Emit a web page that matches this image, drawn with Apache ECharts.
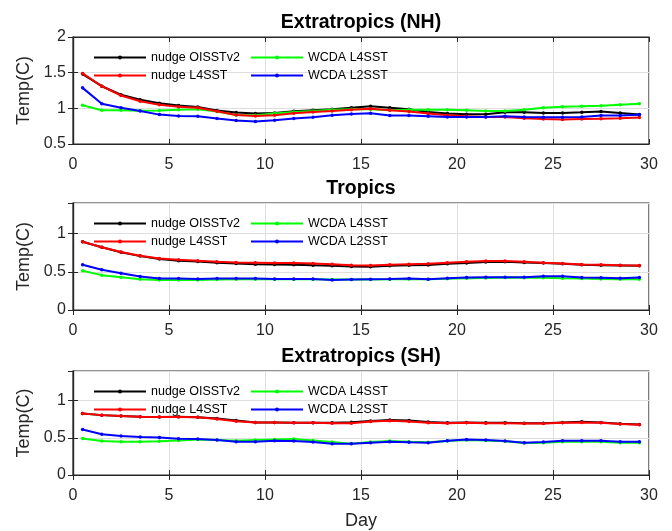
<!DOCTYPE html>
<html>
<head>
<meta charset="utf-8">
<script src="https://cdn.jsdelivr.net/npm/echarts@6/dist/echarts.min.js"></script>
<style>html,body{margin:0;padding:0;background:#fff}#c{width:672px;height:531px}</style>
</head>
<body>
<div id="c"></div>
<script>
const days = [0.5,1.5,2.5,3.5,4.5,5.5,6.5,7.5,8.5,9.5,10.5,11.5,12.5,13.5,14.5,15.5,16.5,17.5,18.5,19.5,20.5,21.5,22.5,23.5,24.5,25.5,26.5,27.5,28.5,29.5];
const xTicks = [0,5,10,15,20,25,30];
const seriesNames = ['nudge OISSTv2','WCDA L4SST','nudge L4SST','WCDA L2SST'];
const panelTitles = ['Extratropics (NH)','Tropics','Extratropics (SH)'];

// Extratropics (NH)
const nhOISST = [1.48,1.31,1.19,1.12,1.07,1.04,1.02,0.97,0.94,0.926,0.935,0.958,0.972,0.986,1.009,1.028,1.009,0.986,0.949,0.926,0.917,0.917,0.944,0.944,0.935,0.935,0.944,0.954,0.935,0.912];
const nhWL4 = [1.042,0.972,0.972,0.965,0.97,0.981,0.986,0.954,0.907,0.903,0.926,0.949,0.963,0.981,0.986,0.986,0.972,0.981,0.981,0.981,0.972,0.963,0.963,0.981,1.009,1.023,1.028,1.037,1.051,1.065];
const nhL4 = [1.49,1.31,1.18,1.10,1.051,1.023,1.009,0.958,0.907,0.894,0.903,0.931,0.949,0.963,0.981,0.995,0.972,0.955,0.926,0.903,0.89,0.88,0.878,0.862,0.85,0.845,0.85,0.855,0.86,0.87];
const nhWL2 = [1.287,1.065,1.009,0.963,0.912,0.894,0.889,0.856,0.829,0.815,0.833,0.856,0.875,0.903,0.921,0.93,0.90,0.90,0.89,0.88,0.88,0.88,0.89,0.88,0.875,0.875,0.88,0.90,0.90,0.91];

// Tropics
const trOISST = [0.894,0.82,0.755,0.705,0.668,0.645,0.635,0.618,0.61,0.60,0.596,0.592,0.587,0.579,0.57,0.565,0.578,0.587,0.59,0.605,0.614,0.627,0.631,0.622,0.614,0.605,0.592,0.587,0.583,0.578];
const trWL4 = [0.513,0.456,0.43,0.403,0.394,0.394,0.394,0.398,0.403,0.403,0.403,0.403,0.403,0.40,0.40,0.40,0.403,0.407,0.403,0.41,0.416,0.42,0.425,0.421,0.421,0.416,0.412,0.407,0.403,0.403];
const trL4 = [0.894,0.82,0.758,0.71,0.675,0.658,0.644,0.631,0.622,0.618,0.614,0.614,0.609,0.60,0.587,0.583,0.592,0.60,0.605,0.618,0.631,0.64,0.64,0.631,0.618,0.609,0.596,0.592,0.587,0.583];
const trWL2 = [0.592,0.526,0.482,0.438,0.412,0.412,0.407,0.412,0.412,0.412,0.407,0.407,0.407,0.394,0.399,0.403,0.407,0.412,0.403,0.416,0.425,0.43,0.43,0.43,0.443,0.443,0.425,0.421,0.416,0.425];

// Extratropics (SH)
const shOISST = [0.828,0.806,0.793,0.785,0.78,0.784,0.776,0.762,0.733,0.707,0.707,0.703,0.703,0.703,0.71,0.728,0.741,0.733,0.712,0.703,0.707,0.703,0.703,0.698,0.698,0.707,0.716,0.707,0.69,0.68];
const shWL4 = [0.491,0.457,0.448,0.448,0.453,0.466,0.479,0.47,0.461,0.47,0.479,0.483,0.466,0.444,0.422,0.444,0.457,0.448,0.44,0.457,0.47,0.466,0.453,0.431,0.435,0.448,0.448,0.448,0.435,0.435];
const shL4 = [0.828,0.806,0.793,0.785,0.78,0.78,0.776,0.754,0.724,0.707,0.707,0.703,0.703,0.698,0.698,0.72,0.729,0.72,0.703,0.698,0.703,0.698,0.698,0.694,0.694,0.703,0.707,0.703,0.686,0.677];
const shWL2 = [0.612,0.548,0.526,0.513,0.504,0.487,0.483,0.47,0.448,0.448,0.461,0.457,0.444,0.422,0.422,0.435,0.448,0.44,0.435,0.461,0.479,0.47,0.457,0.435,0.444,0.461,0.461,0.461,0.448,0.448];

const yRanges = [[0.5,2],[0,1.4],[0,1.4]];
const panelData = [[nhOISST,nhWL4,nhL4,nhWL2],[trOISST,trWL4,trL4,trWL2],[shOISST,shWL4,shL4,shWL2]];
const colors = ['#000000','#00ff00','#ff0000','#0000ff'];

const FONT = 'Liberation Sans, Arial, Helvetica, sans-serif';
const AX = '#262626';
const gridTops = [37, 203, 371];
const gridH = 107;

const grid = [], xAxis = [], yAxis = [], series = [], legend = [], title = [];
gridTops.forEach((t, p) => {
  grid.push({left: 73, right: 23, top: t, height: gridH, show: true, borderColor: AX, borderWidth: 1.2, backgroundColor: '#fff'});
  const isLast = p === 2;
  xAxis.push({
    type: 'value', gridIndex: p, min: 0, max: 30, interval: 5, position: 'bottom',
    name: isLast ? 'Day' : '', nameLocation: 'middle', nameGap: 37,
    nameTextStyle: {fontFamily: FONT, fontSize: 18, color: AX},
    axisLine: {show: true, lineStyle: {color: AX, width: 1.2}},
    axisTick: {show: true, inside: true, length: 5, lineStyle: {color: AX}},
    axisLabel: {fontFamily: FONT, fontSize: 16, color: AX, margin: 13},
    splitLine: {show: true, lineStyle: {color: '#dedede', width: 1}}
  });
  xAxis.push({
    type: 'value', gridIndex: p, min: 0, max: 30, interval: 5, position: 'top',
    axisLine: {show: true, lineStyle: {color: AX, width: 1.2}},
    axisTick: {show: true, inside: true, length: 5, lineStyle: {color: AX}},
    axisLabel: {show: false}, splitLine: {show: false}
  });
  const r = yRanges[p];
  const fmt = v => (Math.abs(v / 0.5 - Math.round(v / 0.5)) < 1e-6) ? String(+v.toFixed(1)) : '';
  yAxis.push({
    type: 'value', gridIndex: p, min: r[0], max: r[1], interval: 0.5, position: 'left',
    name: 'Temp(C)', nameLocation: 'middle', nameGap: 38, nameRotate: 90,
    nameTextStyle: {fontFamily: FONT, fontSize: 18, color: AX},
    axisLine: {show: true, lineStyle: {color: AX, width: 1.2}},
    axisTick: {show: true, inside: true, length: 5, lineStyle: {color: AX}},
    axisLabel: {fontFamily: FONT, fontSize: 16, color: AX, margin: 7, formatter: fmt, showMaxLabel: r[1] === 2},
    splitLine: {show: true, lineStyle: {color: '#dedede', width: 1}}
  });
  yAxis.push({
    type: 'value', gridIndex: p, min: r[0], max: r[1], interval: 0.5, position: 'right',
    axisLine: {show: true, lineStyle: {color: AX, width: 1.2}},
    axisTick: {show: true, inside: true, length: 5, lineStyle: {color: AX}},
    axisLabel: {show: false}, splitLine: {show: false}
  });
  title.push({
    text: panelTitles[p], left: 361, textAlign: 'center', top: t - 24, padding: 0,
    textStyle: {fontFamily: FONT, fontSize: 19.5, fontWeight: 'bold', color: '#000'}
  });
  panelData[p].forEach((arr, k) => {
    series.push({
      name: seriesNames[k], type: 'line', xAxisIndex: 2 * p, yAxisIndex: 2 * p,
      data: days.map((d, i) => [d, arr[i]]),
      symbol: 'circle', symbolSize: 3.5, showSymbol: true,
      lineStyle: {color: colors[k], width: 2},
      itemStyle: {color: colors[k]},
      z: 2 + k, silent: true
    });
  });
  const legCommon = {
    orient: 'vertical', itemWidth: 52, itemHeight: 5, itemGap: 5, padding: 0,
    textStyle: {fontFamily: FONT, fontSize: 12.5, color: '#000'}, selectedMode: false
  };
  legend.push(Object.assign({}, legCommon, {left: 93, top: t + 14, data: ['nudge OISSTv2','nudge L4SST']}));
  legend.push(Object.assign({}, legCommon, {left: 250, top: t + 14, data: ['WCDA L4SST','WCDA L2SST']}));
});

const chart = echarts.init(document.getElementById('c'), null, {renderer: 'canvas'});
chart.setOption({animation: false, backgroundColor: '#fff', title, grid, xAxis, yAxis, legend, series});
</script>
</body>
</html>
